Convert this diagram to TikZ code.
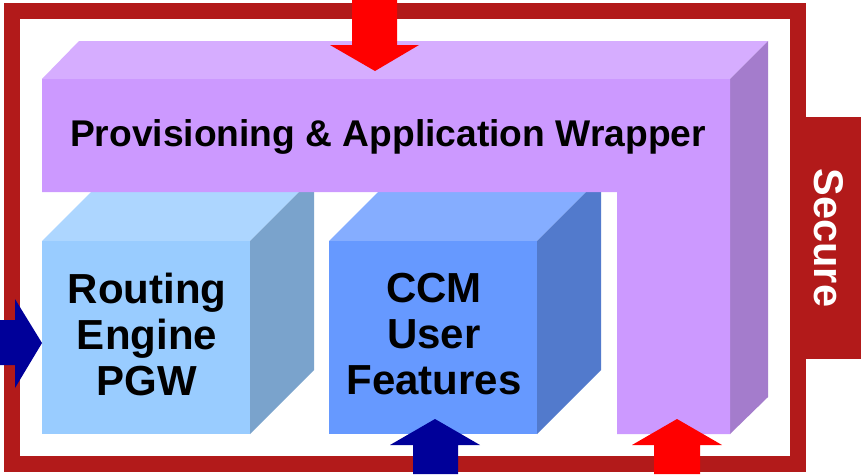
\documentclass[tikz,border=0pt]{standalone}
\usepackage{fontspec}
\setmainfont{Liberation Sans}
\definecolor{framered}{RGB}{178,26,26}
\definecolor{arrred}{RGB}{255,0,0}
\definecolor{arrblue}{RGB}{0,0,153}
\definecolor{bafront}{RGB}{153,204,255}
\definecolor{batop}{RGB}{173,214,255}
\definecolor{baside}{RGB}{122,163,204}
\definecolor{bbfront}{RGB}{102,153,255}
\definecolor{bbtop}{RGB}{133,173,255}
\definecolor{bbside}{RGB}{82,122,204}
\definecolor{wfront}{RGB}{204,153,255}
\definecolor{wtop}{RGB}{214,173,255}
\definecolor{wside}{RGB}{164,124,204}
\begin{document}
\begin{tikzpicture}[x=1pt,y=-1pt,
  boxtext/.style={font=\fontsize{42}{46}\selectfont\bfseries, align=center, inner sep=0pt, text=black},
  wraptext/.style={font=\fontsize{37.2}{40}\selectfont\bfseries, inner sep=0pt, text=black, anchor=base},
  securetext/.style={font=\fontsize{41.5}{46}\selectfont\bfseries, inner sep=0pt, text=white, rotate=-90}]
\useasboundingbox (0,0) rectangle (861,474);
\fill[white] (0,0) rectangle (861,474);
% secure frame
\draw[framered, line width=16pt, line join=miter] (12,11) rectangle (798,464);
\fill[framered] (790,117) rectangle (861,359);
% Routing engine box
\fill[batop] (42,241) -- (106,177) -- (314,177) -- (250,241) -- cycle;
\fill[baside] (250,241) -- (314,177) -- (314,370) -- (250,434) -- cycle;
\fill[bafront] (42,241) rectangle (250,434);
% CCM box
\fill[bbtop] (329,241) -- (393,177) -- (601,177) -- (537,241) -- cycle;
\fill[bbside] (537,241) -- (601,177) -- (601,370) -- (537,434) -- cycle;
\fill[bbfront] (329,241) rectangle (537,434);
% wrapper
\fill[wtop] (42,79) -- (79,41) -- (768,41) -- (730,79) -- cycle;
\fill[wside] (730,79) -- (768,41) -- (768,397) -- (730,434) -- cycle;
\fill[wfront] (42,79) -- (730,79) -- (730,434) -- (617,434) -- (617,192) -- (42,192) -- cycle;
% texts
\node[wraptext] (wrap) at (388,146) {Provisioning \& Application Wrapper};
\node[boxtext] (routing) at (147,334) {Routing\\Engine\\PGW};
\node[boxtext] (ccm) at (434,334) {CCM\\User\\Features};
\node[securetext] (secure) at (829,238) {Secure};
% block arrows
\fill[arrred] (352,0) -- (397,0) -- (397,45) -- (419,45) -- (375,71) -- (330,45) -- (352,45) -- cycle;
\fill[arrblue] (0,320) -- (15,320) -- (15,299) -- (42,343) -- (15,388) -- (15,365) -- (0,365) -- cycle;
\fill[arrblue] (413,474) -- (413,445) -- (390,445) -- (435,419) -- (480,445) -- (458,445) -- (458,474) -- cycle;
\fill[arrred] (654,474) -- (654,445) -- (632,445) -- (677,419) -- (722,445) -- (700,445) -- (700,474) -- cycle;
\end{tikzpicture}
\end{document}
